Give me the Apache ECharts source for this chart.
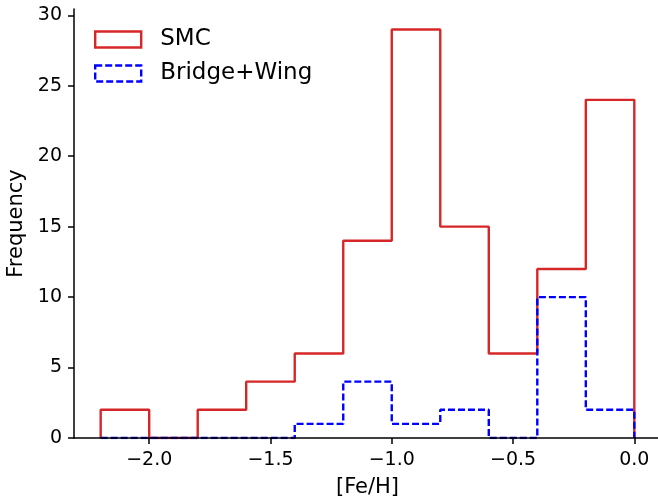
<!DOCTYPE html>
<html>
<head>
<meta charset="utf-8">
<script src="https://cdn.jsdelivr.net/npm/echarts@6/dist/echarts.min.js"></script>
<style>
  html, body { margin: 0; padding: 0; background: #fff; }
  #chart { width: 658px; height: 502px; }
</style>
</head>
<body>
<div id="chart"></div>
<script>
// bin edges in [Fe/H], 0.2 dex wide
const binEdges = [-2.2, -2.0, -1.8, -1.6, -1.4, -1.2, -1.0, -0.8, -0.6, -0.4, -0.2, 0.0]
const smcCounts = [2, 0, 2, 4, 6, 14, 29, 15, 6, 12, 24]
const bridgeCounts = [0, 0, 0, 0, 1, 4, 1, 2, 0, 10, 2]
const xTicks = [-2.0, -1.5, -1.0, -0.5, 0.0]
const yTicks = [0, 5, 10, 15, 20, 25, 30]

const font = 'DejaVu Sans'
const red = '#d62728'
const blue = '#0000ff'

// outline of a step histogram, like histtype='step'
const stepLine = (edges, counts) => {
  const pts = [[edges[0], 0]]
  counts.forEach((c, i) => {
    pts.push([edges[i], c])
    pts.push([edges[i + 1], c])
  })
  pts.push([edges[edges.length - 1], 0])
  return pts
}

const minus = (s) => s.replace('-', '\u2212')

const options = {
  animation: false,
  grid: {
    left: 74,
    right: -3,
    top: 9,
    bottom: 64,
    outerBoundsMode: 'none'
  },
  legend: {
    orient: 'vertical',
    left: 89,
    top: 23,
    itemWidth: 46,
    itemHeight: 16,
    itemGap: 11,
    textStyle: {
      fontFamily: font,
      fontSize: 23,
      color: '#000',
      padding: [0, 0, 0, 14]
    },
    data: [
      {
        name: 'SMC',
        icon: 'rect',
        itemStyle: { color: 'rgba(0,0,0,0)', borderColor: red, borderWidth: 2.4 }
      },
      {
        name: 'Bridge+Wing',
        icon: 'rect',
        itemStyle: { color: 'rgba(0,0,0,0)', borderColor: blue, borderWidth: 2.4, borderType: [7, 3] }
      }
    ]
  },
  xAxis: {
    type: 'value',
    min: -2.31,
    max: 0.11,
    z: 10,
    name: '[Fe/H]',
    nameLocation: 'middle',
    nameGap: 39,
    nameTextStyle: { fontFamily: font, fontSize: 21, color: '#000' },
    splitLine: { show: false },
    axisLine: { onZero: false, lineStyle: { color: '#000', width: 1.5 } },
    axisTick: {
      length: 6,
      customValues: xTicks,
      lineStyle: { color: '#000', width: 1.5 }
    },
    axisLabel: {
      customValues: xTicks,
      margin: 13,
      fontFamily: font,
      fontSize: 19,
      color: '#000',
      formatter: (v) => minus(v.toFixed(1))
    }
  },
  yAxis: {
    type: 'value',
    min: 0,
    max: 30.45,
    z: 10,
    name: 'Frequency',
    nameLocation: 'middle',
    nameGap: 45,
    nameTextStyle: { fontFamily: font, fontSize: 21, color: '#000' },
    splitLine: { show: false },
    axisLine: { show: true, onZero: false, lineStyle: { color: '#000', width: 1.5 } },
    axisTick: {
      show: true,
      length: 6,
      customValues: yTicks,
      lineStyle: { color: '#000', width: 1.5 }
    },
    axisLabel: {
      customValues: yTicks,
      margin: 12,
      fontFamily: font,
      fontSize: 19,
      color: '#000'
    }
  },
  series: [
    {
      name: 'SMC',
      type: 'line',
      showSymbol: false,
      color: red,
      lineStyle: { color: red, width: 2.4 },
      data: stepLine(binEdges, smcCounts)
    },
    {
      name: 'Bridge+Wing',
      type: 'line',
      showSymbol: false,
      color: blue,
      lineStyle: { color: blue, width: 2.4, type: [7, 3] },
      data: stepLine(binEdges, bridgeCounts)
    }
  ]
}

const chart = echarts.init(document.getElementById('chart'))
chart.setOption(options)
</script>
</body>
</html>
